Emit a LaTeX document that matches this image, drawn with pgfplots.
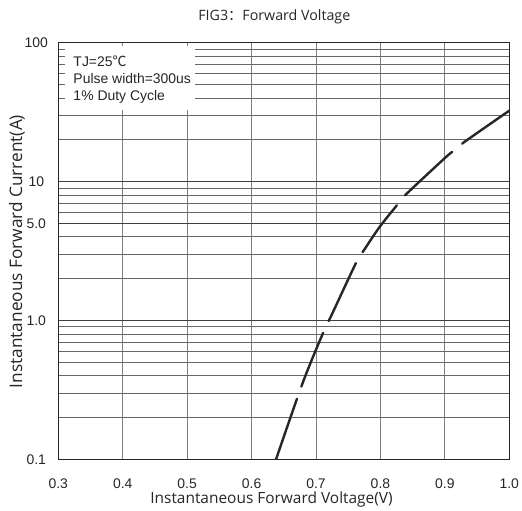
\documentclass[border=0pt]{standalone}
\usepackage{fontspec}
\setmainfont{Liberation Sans}
\newfontfamily\labelfont{Open Sans}
\newfontfamily\cjk{Noto Sans CJK SC}
\usepackage{pgfplots}
\pgfplotsset{compat=1.18}

\begin{document}
\begin{tikzpicture}
\begin{semilogyaxis}[
    at={(0,0)}, anchor=south west,
    scale only axis,
    width=451bp, height=416.6bp,
    xmin=0.3, xmax=1.0,
    ymin=0.1, ymax=100,
    xtick={0.3,0.4,0.5,0.6,0.7,0.8,0.9,1.0},
    xticklabels={0.3,0.4,0.5,0.6,0.7,0.8,0.9,1.0},
    ytick={0.1,1,5,10,100},
    yticklabels={0.1,1.0,5.0,10,100},
    minor ytick={0.2,0.3,0.4,0.5,0.6,0.7,0.8,0.9,2,3,4,6,7,8,9,20,30,40,50,60,70,80,90},
    grid=both,
    major grid style={black!75, line width=0.8bp},
    minor grid style={black!60, line width=0.7bp},
    x grid style={black!50, line width=0.8bp},
    major tick length=0pt, minor tick length=0pt,
    axis line style={black!85, line width=0.9bp},
    tick label style={font=\fontsize{14}{16}\selectfont, text=black!85},
    xticklabel style={anchor=center, yshift=-24bp},
    yticklabel style={anchor=center, xshift=-22bp},
]
\addplot[black!85, line width=2.4bp, line cap=round, smooth,
         dash pattern=on 64bp off 13bp on 58bp off 13bp]
  coordinates {
    (0.638,0.1) (0.680,0.362) (0.714,0.877) (0.724,1.09) (0.763,2.65)
    (0.7745,3.21) (0.799,4.73) (0.828,6.97) (0.841,8.2) (0.905,15.5)
    (0.929,19.1) (1.0,32.4)
  };
\end{semilogyaxis}
% condition box
\fill[white] (6.7bp,413.3bp) rectangle (136.7bp,349.3bp);
\begin{scope}[every node/.style={anchor=west, inner sep=0pt, font=\fontsize{14}{16}\selectfont, text=black!85}]
  \node at (15bp,398.3bp) {TJ=25{\cjk ℃}};
  \node at (15bp,380.3bp) {Pulse width=300us};
  \node at (15bp,362.3bp) {1\% Duty Cycle};
\end{scope}
% titles
\node[font=\labelfont\fontsize{14.3}{16}\selectfont, text=black!85] at (216bp,442.6bp) {FIG3{\cjk ：}Forward Voltage};
\node[font=\labelfont\fontsize{15.5}{17}\selectfont, text=black!85] at (213.2bp,-40.5bp) {Instantaneous Forward Voltage(V)};
\node[rotate=90, font=\labelfont\fontsize{17.3}{19}\selectfont, text=black!85] at (-41.3bp,207.8bp) {Instantaneous Forward Current(A)};
\pgfresetboundingbox
\path (-58.3bp,-51.7bp) rectangle (463.7bp,459.3bp);
\end{tikzpicture}
\end{document}
